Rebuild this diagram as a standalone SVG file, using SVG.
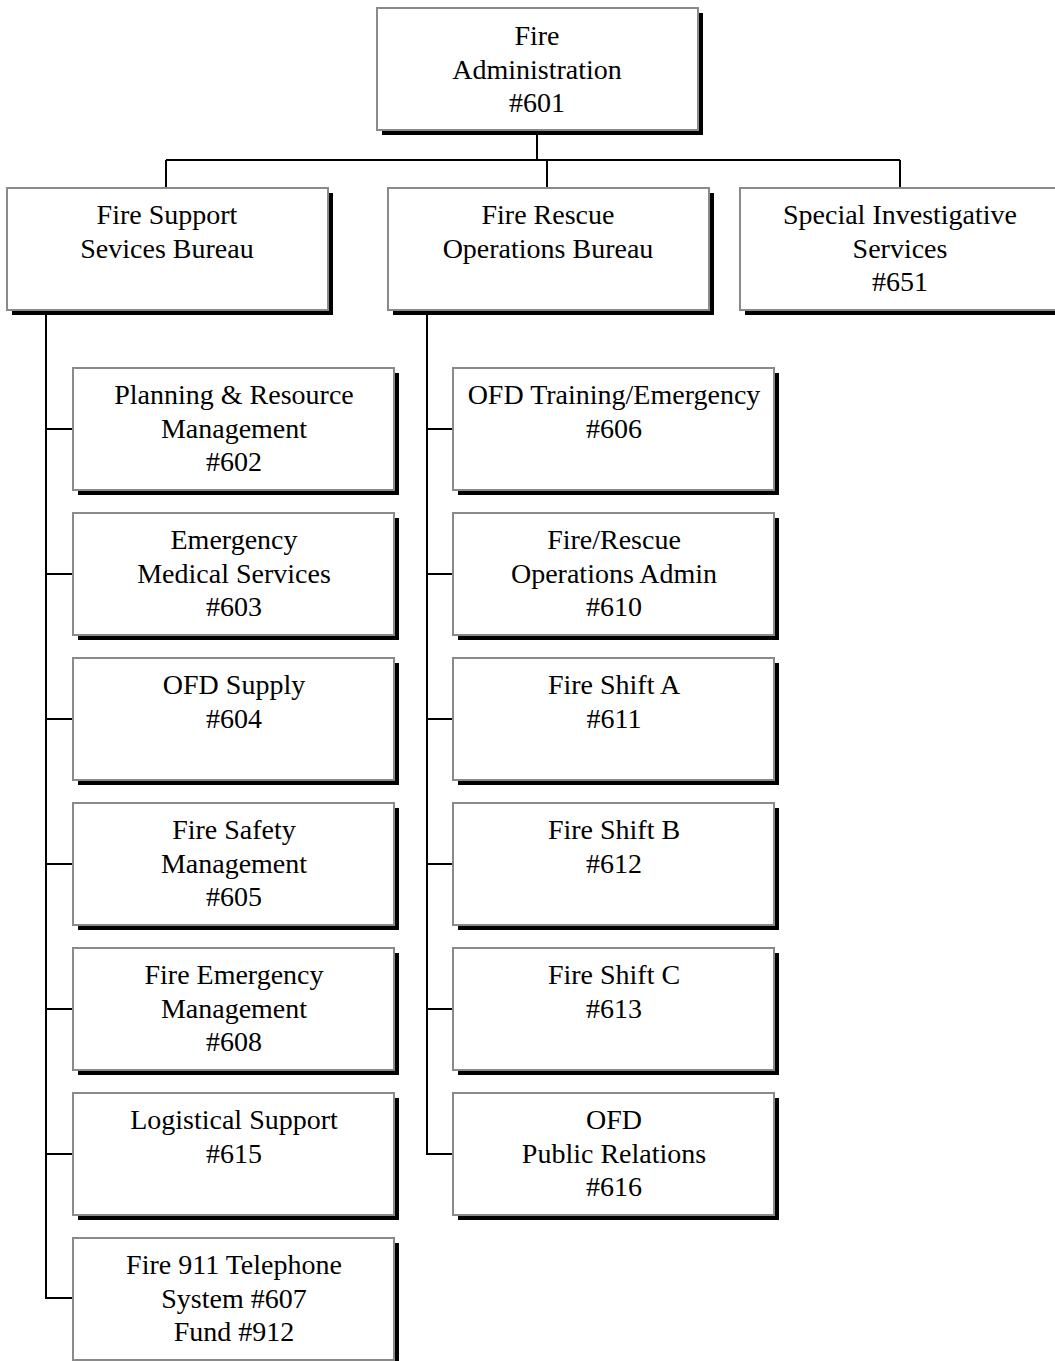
<svg xmlns="http://www.w3.org/2000/svg" width="1055" height="1361" viewBox="0 0 1055 1361">
  <style>
    .shadow { fill: #000; }
    .box { fill: #fff; stroke: #8a8a8a; stroke-width: 2; }
    .label { font-family: "Liberation Serif", "Times New Roman", serif; font-size: 28px; fill: #000; text-anchor: middle; }
    .wire { fill: none; stroke: #000; stroke-width: 2; }
  </style>
  <defs>
    <g id="card">
      <rect class="shadow" x="5" y="5" width="321" height="122"/>
      <rect class="box" x="0" y="0" width="321" height="122"/>
    </g>
  </defs>
  <rect width="1055" height="1361" fill="#fff"/>

  <!-- connectors -->
  <g id="connectors">
    <path class="wire" d="M537 131 V160 M166 160 H900 M166 160 V188 M547 160 V188 M900 160 V188"/>
    <path class="wire" d="M46 311 V1298 H73 M46 429 H73 M46 574 H73 M46 719 H73 M46 864 H73 M46 1009 H73 M46 1154 H73"/>
    <path class="wire" d="M427 311 V1154 H453 M427 429 H453 M427 574 H453 M427 719 H453 M427 864 H453 M427 1009 H453"/>
  </g>

  <!-- top level -->
  <g id="n601" transform="translate(377,8)">
    <use href="#card"/>
    <text class="label" x="160" y="37">Fire</text>
    <text class="label" x="160" y="70.5">Administration</text>
    <text class="label" x="160" y="104">#601</text>
  </g>

  <!-- bureaus -->
  <g id="support" transform="translate(7,188)">
    <use href="#card"/>
    <text class="label" x="160" y="36">Fire Support</text>
    <text class="label" x="160" y="69.5">Sevices Bureau</text>
  </g>
  <g id="operations" transform="translate(388,188)">
    <use href="#card"/>
    <text class="label" x="160" y="36">Fire Rescue</text>
    <text class="label" x="160" y="69.5">Operations Bureau</text>
  </g>
  <g id="n651" transform="translate(740,188)">
    <use href="#card"/>
    <text class="label" x="160" y="36">Special Investigative</text>
    <text class="label" x="160" y="69.5">Services</text>
    <text class="label" x="160" y="103">#651</text>
  </g>

  <!-- support bureau units -->
  <g id="n602" transform="translate(73,368)">
    <use href="#card"/>
    <text class="label" x="161" y="36">Planning &amp; Resource</text>
    <text class="label" x="161" y="69.5">Management</text>
    <text class="label" x="161" y="103">#602</text>
  </g>
  <g id="n603" transform="translate(73,513)">
    <use href="#card"/>
    <text class="label" x="161" y="36">Emergency</text>
    <text class="label" x="161" y="69.5">Medical Services</text>
    <text class="label" x="161" y="103">#603</text>
  </g>
  <g id="n604" transform="translate(73,658)">
    <use href="#card"/>
    <text class="label" x="161" y="36">OFD Supply</text>
    <text class="label" x="161" y="69.5">#604</text>
  </g>
  <g id="n605" transform="translate(73,803)">
    <use href="#card"/>
    <text class="label" x="161" y="36">Fire Safety</text>
    <text class="label" x="161" y="69.5">Management</text>
    <text class="label" x="161" y="103">#605</text>
  </g>
  <g id="n608" transform="translate(73,948)">
    <use href="#card"/>
    <text class="label" x="161" y="36">Fire Emergency</text>
    <text class="label" x="161" y="69.5">Management</text>
    <text class="label" x="161" y="103">#608</text>
  </g>
  <g id="n615" transform="translate(73,1093)">
    <use href="#card"/>
    <text class="label" x="161" y="36">Logistical Support</text>
    <text class="label" x="161" y="69.5">#615</text>
  </g>
  <g id="n607" transform="translate(73,1238)">
    <use href="#card"/>
    <text class="label" x="161" y="36">Fire 911 Telephone</text>
    <text class="label" x="161" y="69.5">System #607</text>
    <text class="label" x="161" y="103">Fund #912</text>
  </g>

  <!-- operations bureau units -->
  <g id="n606" transform="translate(453,368)">
    <use href="#card"/>
    <text class="label" x="161" y="36">OFD Training/Emergency</text>
    <text class="label" x="161" y="69.5">#606</text>
  </g>
  <g id="n610" transform="translate(453,513)">
    <use href="#card"/>
    <text class="label" x="161" y="36">Fire/Rescue</text>
    <text class="label" x="161" y="69.5">Operations Admin</text>
    <text class="label" x="161" y="103">#610</text>
  </g>
  <g id="n611" transform="translate(453,658)">
    <use href="#card"/>
    <text class="label" x="161" y="36">Fire Shift A</text>
    <text class="label" x="161" y="69.5">#611</text>
  </g>
  <g id="n612" transform="translate(453,803)">
    <use href="#card"/>
    <text class="label" x="161" y="36">Fire Shift B</text>
    <text class="label" x="161" y="69.5">#612</text>
  </g>
  <g id="n613" transform="translate(453,948)">
    <use href="#card"/>
    <text class="label" x="161" y="36">Fire Shift C</text>
    <text class="label" x="161" y="69.5">#613</text>
  </g>
  <g id="n616" transform="translate(453,1093)">
    <use href="#card"/>
    <text class="label" x="161" y="36">OFD</text>
    <text class="label" x="161" y="69.5">Public Relations</text>
    <text class="label" x="161" y="103">#616</text>
  </g>
</svg>
